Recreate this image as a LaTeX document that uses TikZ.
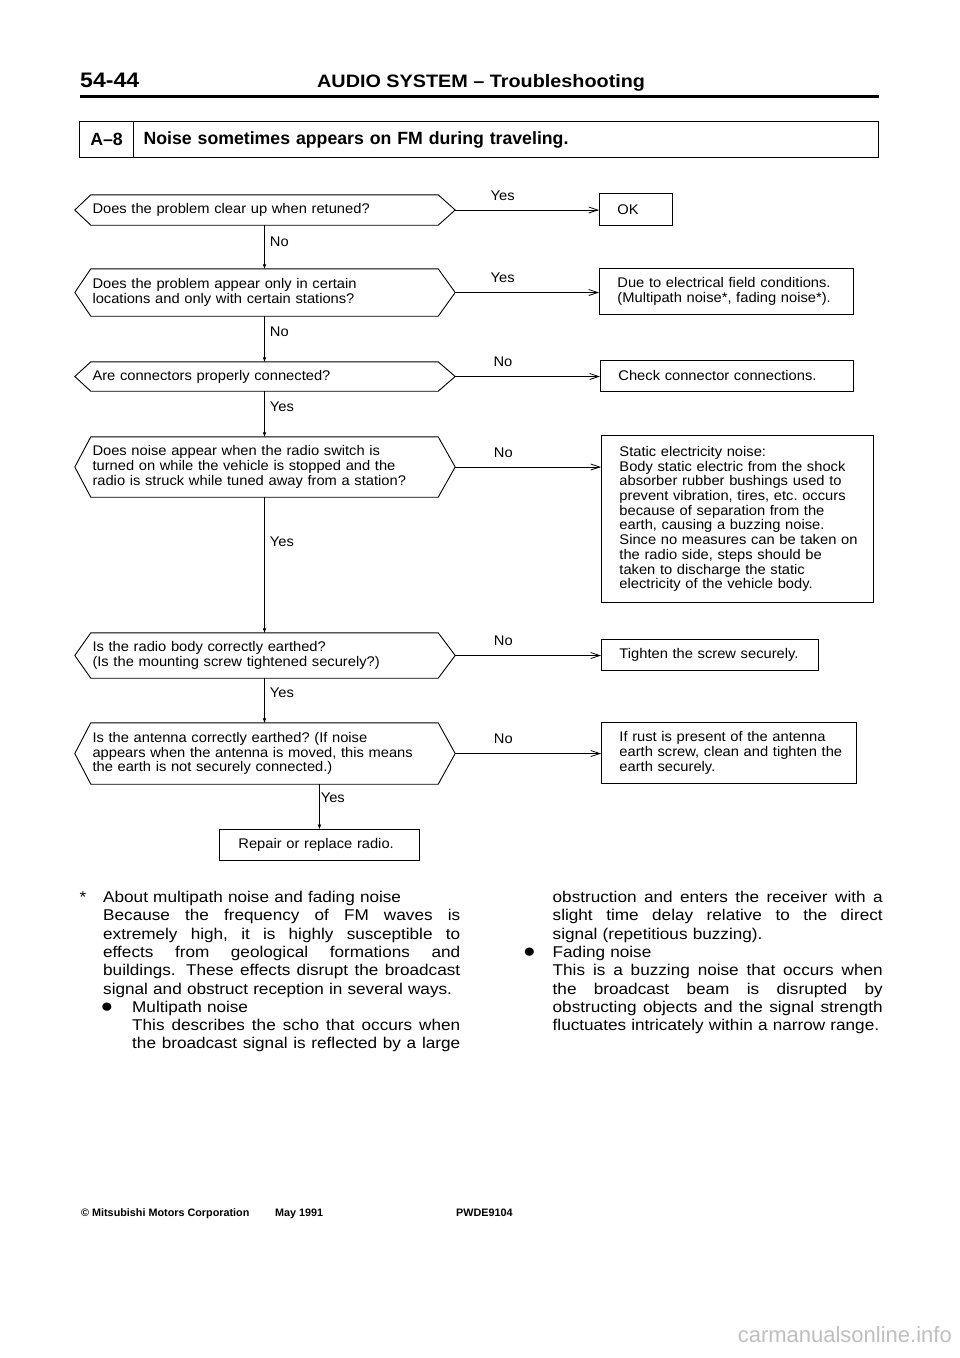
\documentclass[tikz,border=0pt]{standalone}
\usepackage{fontspec}
\setmainfont{Liberation Sans}
\newfontfamily\flowfont[FakeStretch=1.05]{Liberation Sans}
\newfontfamily\notefont[FakeStretch=1.1]{Liberation Sans}
\newfontfamily\headfont[FakeStretch=1.1]{Liberation Sans}
\usetikzlibrary{arrows.meta, calc}
\frenchspacing

% hexagon round a question node, with a named tip on the right
\newcommand{\hexframe}[1]{%
  \coordinate (#1tip) at ($(#1.east)+(17,0)$);
  \draw[frame] (#1.north west) -- (#1.north east) -- (#1tip) -- (#1.south east)
    -- (#1.south west) -- ($(#1.west)+(-16,0)$) -- cycle;}
% one justified line of the note
\newcommand{\jline}[2]{\makebox[#1pt][s]{\spaceskip=0.28em plus 1fil\relax #2}}
\newcommand{\dotmark}{{\fontsize{19}{19}\selectfont ●}}

\begin{document}
\begin{tikzpicture}[x=1pt, y=-1pt, line cap=round,
  flowtext/.style={font=\flowfont\fontsize{14}{14.7}\selectfont},
  frame/.style={line width=0.9pt},
  question/.style={flowtext, minimum width=347pt, minimum height=#1,
    text width=347pt, inner sep=0pt, align=left,
    execute at begin node={\leftskip=1.5pt}},
  answer/.style={flowtext, draw, line width=0.9pt, anchor=north west,
    inner sep=0pt, align=left, execute at begin node={\leftskip=18pt}},
  stem/.style={line width=0.8pt, -{Stealth[length=5pt, width=3.5pt]}},
  branch/.style={line width=0.8pt, -{Straight Barb[length=9pt, width=6pt]}},
  stemlabel/.style={flowtext, anchor=west, inner sep=0pt, xshift=5pt},
  branchlabel/.style={flowtext, anchor=base, inner sep=0pt, yshift=10pt, pos=0.33},
  notetext/.style={font=\notefont\fontsize{15.6}{18.3}\selectfont, anchor=base west,
    inner sep=0pt, align=left},
  footer/.style={font=\bfseries\fontsize{10.8}{11}\selectfont, anchor=base west, inner sep=0pt}]
\fill[white] (0,0) rectangle (960,1358);
\useasboundingbox (0,0) rectangle (960,1358);
% Header
\node[anchor=base west, inner sep=0pt, font=\headfont\bfseries\fontsize{21}{21}\selectfont]
  (pageno) at (80,87) {54-44};
\node[anchor=base west, inner sep=0pt, font=\headfont\bfseries\fontsize{18}{18}\selectfont]
  (title) at (317,87) {AUDIO SYSTEM – Troubleshooting};
\draw[line width=3pt, line cap=butt] (80,96) -- (879,96);
% Case line
\node[draw, line width=1.2pt, anchor=north west, minimum width=54pt, minimum height=36pt,
  inner sep=0pt, font=\bfseries\fontsize{17.7}{18}\selectfont] (code) at (79,121) {A–8};
\node[draw, line width=1.2pt, anchor=north west, minimum height=36pt, text width=725pt,
  inner xsep=10pt, inner ysep=0pt, align=left, font=\bfseries\fontsize{17.7}{18}\selectfont]
  (case) at (133,121) {Noise sometimes appears on FM during traveling.};
% Questions
\node[question=30pt] (Q1) at (264.5,210) {Does the problem clear up when retuned?};
\node[question=47pt] (Q2) at (264.5,292.5) {Does the problem appear only in certain\\
  locations and only with certain stations?};
\node[question=29pt] (Q3) at (264.5,376.5) {Are connectors properly connected?};
\node[question=60pt] (Q4) at (264.5,467) {Does noise appear when the radio switch is\\
  turned on while the vehicle is stopped and the\\
  radio is struck while tuned away from a station?};
\node[question=45pt] (Q5) at (264.5,655.5) {Is the radio body correctly earthed?\\
  (Is the mounting screw tightened securely?)};
\node[question=61pt] (Q6) at (264.5,753.5) {Is the antenna correctly earthed? (If noise\\
  appears when the antenna is moved, this means\\
  the earth is not securely connected.)};
\hexframe{Q1}
\hexframe{Q2}
\hexframe{Q3}
\hexframe{Q4}
\hexframe{Q5}
\hexframe{Q6}
% Answers
\node[answer, text width=73pt, minimum height=32pt] (R1) at (599,193) {OK};
\node[answer, text width=254pt, minimum height=46pt] (R2) at (599,268)
  {Due to electrical field conditions.\\(Multipath noise*, fading noise*).};
\node[answer, text width=253pt, minimum height=31pt] (R3) at (600,360)
  {Check connector connections.};
\node[answer, text width=272pt, minimum height=167pt] (R4) at (601,435)
  {Static electricity noise:\\
   Body static electric from the shock\\
   absorber rubber bushings used to\\
   prevent vibration, tires, etc. occurs\\
   because of separation from the\\
   earth, causing a buzzing noise.\\
   Since no measures can be taken on\\
   the radio side, steps should be\\
   taken to discharge the static\\
   electricity of the vehicle body.};
\node[answer, text width=217pt, minimum height=31pt] (R5) at (601,639)
  {Tighten the screw securely.};
\node[answer, text width=255pt, minimum height=61pt] (R6) at (601,722)
  {If rust is present of the antenna\\
   earth screw, clean and tighten the\\
   earth securely.};
\node[answer, text width=200pt, minimum height=31pt, execute at begin node={\leftskip=19pt}]
  (R7) at (219,829) {Repair or replace radio.};
% ---- Down the questions ----
\draw[stem] (Q1.south) -- node[stemlabel, pos=0.39] {No} (Q2.north);
\draw[stem] (Q2.south) -- node[stemlabel, pos=0.35] {No} (Q3.north);
\draw[stem] (Q3.south) -- node[stemlabel, pos=0.35] {Yes} (Q4.north);
\draw[stem] (Q4.south) -- node[stemlabel, pos=0.33] {Yes} (Q5.north);
\draw[stem] (Q5.south) -- node[stemlabel, pos=0.33] {Yes} (Q6.north);
\draw[stem] (Q6.south -| R7.north) -- node[stemlabel, pos=0.31, xshift=-4pt] {Yes} (R7.north);
% ---- Across to the answers ----
\draw[branch] (Q1tip) -- node[branchlabel] {Yes} (Q1tip -| R1.west);
\draw[branch] (Q2tip) -- node[branchlabel] {Yes} (Q2tip -| R2.west);
\draw[branch] (Q3tip) -- node[branchlabel] {No} (Q3tip -| R3.west);
\draw[branch] (Q4tip) -- node[branchlabel] {No} (Q4tip -| R4.west);
\draw[branch] (Q5tip) -- node[branchlabel] {No} (Q5tip -| R5.west);
\draw[branch] (Q6tip) -- node[branchlabel] {No} (Q6tip -| R6.west);
% Note
\node[notetext, text width=357pt] (noteL) at (103,902.5)
  {\leavevmode\llap{*\hspace{17pt}}About multipath noise and fading noise\\
   \jline{357}{Because the frequency of FM waves is}\\
   \jline{357}{extremely high, it is highly susceptible to}\\
   \jline{357}{effects from geological formations and}\\
   \jline{357}{buildings.\hspace{4pt} These effects disrupt the broadcast}\\
   signal and obstruct reception in several ways.\\
   \leavevmode\hspace*{29pt}\llap{\dotmark\hspace{19pt}}Multipath noise\\
   \leavevmode\hspace*{29pt}\jline{328}{This describes the scho that occurs when}\\
   \leavevmode\hspace*{29pt}\jline{328}{the broadcast signal is reflected by a large}};
\node[notetext, text width=330pt] (noteR) at (552.5,902.5)
  {\jline{330}{obstruction and enters the receiver with a}\\
   \jline{330}{slight time delay relative to the direct}\\
   signal (repetitious buzzing).\\
   \leavevmode\llap{\dotmark\hspace{17pt}}Fading noise\\
   \jline{330}{This is a buzzing noise that occurs when}\\
   \jline{330}{the broadcast beam is disrupted by}\\
   \jline{330}{obstructing objects and the signal strength}\\
   fluctuates intricately within a narrow range.};
% Footer
\node[footer] (maker) at (81,1216) {© Mitsubishi Motors Corporation};
\node[footer] (date) at (275,1216) {May 1991};
\node[footer] (pubno) at (456,1216) {PWDE9104};
\node[anchor=base east, inner sep=0pt, text=black!25, font=\fontsize{22}{22}\selectfont]
  (mark) at (952,1342) {carmanualsonline.info};
\end{tikzpicture}
\end{document}
